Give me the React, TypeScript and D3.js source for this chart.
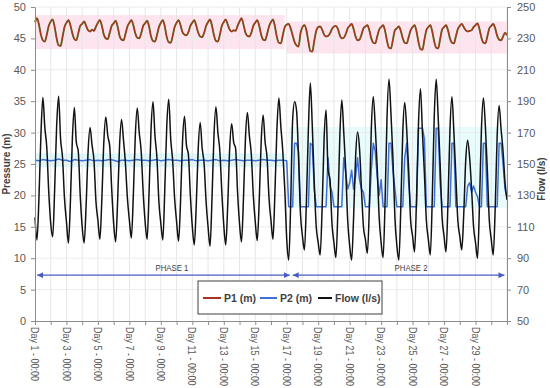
import React, { useEffect, useRef } from 'react';
import * as d3 from 'd3';

// 3-hourly samples (00,03,...,21h) from Day 1 - 00:00
// flow in l/s
const flowPhase1 = [
    116, 101.6, 128, 168, 192.4, 173.2, 160.4, 132,
    112, 103.6, 134, 174, 193.2, 166, 154, 128,
    113.2, 99.6, 126, 166, 186, 164, 158, 130,
    110, 99.6, 124, 158, 173.2, 162, 152, 126,
    114, 102, 128, 164, 180, 168, 161.2, 134,
    112, 100.4, 126, 162, 178.4, 165.2, 150, 128,
    114, 102.8, 130, 168, 185.6, 170, 158, 132,
    113.2, 102, 132, 172, 189.6, 168, 154, 126,
    112, 101.6, 134, 174, 191.2, 166, 152, 128,
    113.2, 100.8, 126, 164, 180.4, 162, 156, 130,
    110, 98.4, 124, 160, 176.4, 160, 150, 126,
    110, 97.6, 128, 168, 186.4, 170, 158, 132,
    110.8, 98.4, 124, 160, 175.6, 164, 160, 132,
    112, 100.4, 128, 166, 182.8, 168, 156, 130,
    113.2, 101.2, 126, 164, 181.2, 164, 154, 128,
    114, 102, 132, 172, 192, 174, 158, 134,
];
// Day 17 - 00:00 to Day 31 - 00:00
const flowPhase2 = [
    102, 88.8, 124, 178, 189.6, 184, 154, 118,
    104, 95.2, 126, 172, 201.6, 174, 138, 110,
    100, 92, 122, 166, 184.4, 146, 140, 112,
    100, 90.4, 120, 168, 190.8, 170, 146, 114,
    98, 88.8, 116, 154, 170.4, 160, 134, 110,
    102, 93.2, 122, 172, 192.8, 174, 148, 116,
    100, 90.4, 126, 180, 204, 182, 154, 116,
    98, 88.8, 122, 170, 189.2, 172, 146, 114,
    104, 94, 128, 176, 198, 170, 144, 114,
    102, 92, 128, 180, 204, 180, 150, 116,
    104, 94, 126, 172, 192.8, 170, 142, 114,
    104, 95.2, 118, 152, 165.2, 154, 134, 110,
    100, 90, 124, 172, 192, 174, 146, 114,
    102, 92, 122, 168, 187.2, 172, 158, 138,
    127.2,
];

// P1 in m, same 3-hourly grid
const p1Phase1 = [
    47.6, 48.2, 47.2, 45.6, 44.7, 44.5, 45.6, 47.0,
    47.7, 48.0, 46.8, 45.0, 43.9, 43.8, 45.2, 46.8,
    47.5, 47.9, 47.1, 45.8, 44.9, 44.7, 45.8, 47.0,
    47.3, 47.7, 47.0, 46.3, 46.1, 46.4, 46.2, 46.9,
    47.5, 47.9, 47.0, 45.6, 45.0, 44.9, 45.9, 47.0,
    47.4, 47.8, 46.9, 45.4, 44.8, 44.7, 45.7, 46.9,
    47.5, 47.9, 47.1, 45.8, 45.1, 45.0, 45.8, 47.0,
    47.4, 47.8, 46.9, 45.3, 44.6, 44.5, 45.5, 46.8,
    47.5, 47.9, 46.9, 45.2, 44.4, 44.3, 45.4, 46.8,
    47.5, 47.9, 47.1, 46.0, 45.6, 45.5, 46.0, 47.0,
    47.5, 47.9, 47.0, 45.9, 45.3, 45.2, 45.9, 47.0,
    47.6, 48.0, 47.0, 45.5, 44.6, 44.5, 45.6, 47.0,
    47.6, 48.0, 47.2, 46.4, 46.1, 46.3, 46.2, 47.0,
    47.7, 48.2, 47.2, 45.9, 45.4, 45.3, 45.9, 47.0,
    47.5, 47.9, 47.0, 45.6, 44.8, 44.7, 45.7, 46.9,
    47.6, 48.0, 46.9, 45.2, 44.3, 44.2, 45.5, 46.8,
];
const p1Phase2 = [
    47.2, 47.3, 46.6, 45.5, 44.4, 43.9, 43.7, 45.8,
    46.8, 47.1, 46.3, 44.5, 43.0, 42.9, 44.6, 46.2,
    46.8, 46.9, 46.4, 45.6, 45.3, 45.4, 45.8, 46.5,
    46.9, 47.0, 46.5, 45.5, 45.0, 45.1, 45.7, 46.6,
    47.0, 47.3, 46.5, 45.3, 44.7, 44.8, 45.6, 46.6,
    46.9, 47.1, 46.3, 45.0, 44.3, 44.2, 45.3, 46.4,
    46.8, 47.1, 46.2, 44.6, 43.5, 43.4, 44.8, 46.3,
    46.6, 46.9, 46.2, 45.0, 44.3, 44.2, 45.2, 46.3,
    46.8, 47.1, 46.1, 44.4, 43.3, 43.2, 44.8, 46.3,
    46.8, 47.1, 46.1, 44.5, 43.5, 43.4, 44.9, 46.4,
    46.8, 47.1, 46.3, 45.0, 44.3, 44.2, 45.3, 46.5,
    47.0, 47.3, 46.8, 46.3, 46.1, 46.2, 46.3, 46.8,
    47.1, 47.4, 46.5, 45.1, 44.3, 44.2, 45.3, 46.6,
    47.0, 47.3, 46.6, 45.4, 44.8, 44.7, 45.3, 45.9,
    45.5,
];

// P2 in m: 6-hourly, Day 1 - 00:00 to Day 17 - 00:00
const p2Phase1 = [
    25.6, 25.5, 25.7, 25.6, 25.5, 25.6, 25.8, 25.6,
    25.6, 25.4, 25.7, 25.6, 25.5, 25.6, 25.7, 25.5,
    25.6, 25.5, 25.6, 25.7, 25.6, 25.4, 25.6, 25.6,
    25.5, 25.6, 25.7, 25.6, 25.6, 25.5, 25.6, 25.7,
    25.5, 25.6, 25.7, 25.6, 25.6, 25.5, 25.6, 25.6,
    25.7, 25.5, 25.6, 25.6, 25.5, 25.6, 25.7, 25.5,
    25.6, 25.5, 25.6, 25.7, 25.6, 25.5, 25.6, 25.6,
    25.5, 25.6, 25.7, 25.6, 25.6, 25.5, 25.6, 25.6,
    25.5,
];
// P2 in m: 3-hourly, Day 17 - 03:00 to Day 31 - 00:00
const p2Phase2 = [
    18.2, 18.2, 18.2, 28.3, 28.3, 27.0, 18.2, 18.2,
    18.2, 18.2, 18.2, 28.3, 28.0, 21.0, 18.2, 18.2,
    18.2, 18.2, 18.2, 18.2, 26.0, 21.5, 20.5, 18.2,
    18.2, 18.2, 18.2, 18.2, 26.0, 23.5, 21.0, 22.0,
    24.0, 21.0, 23.0, 26.0, 22.5, 21.0, 20.5, 18.2,
    18.2, 18.2, 24.0, 28.3, 27.0, 23.0, 20.0, 22.5,
    18.2, 18.2, 18.2, 28.3, 28.3, 24.0, 21.0, 18.2,
    18.2, 18.2, 18.2, 26.0, 28.3, 22.0, 18.2, 18.2,
    18.2, 18.2, 30.7, 30.7, 30.7, 29.0, 18.2, 18.2,
    18.2, 18.2, 18.2, 30.7, 30.7, 22.0, 18.2, 18.2,
    18.2, 18.2, 18.2, 28.3, 28.3, 18.2, 18.2, 18.2,
    18.2, 18.2, 18.2, 21.5, 22.0, 20.5, 21.5, 20.5,
    19.8, 18.2, 18.2, 28.3, 28.3, 18.2, 18.2, 18.2,
    18.2, 18.2, 18.2, 28.3, 28.3, 25.0, 21.0, 19.7,
];

const xTickLabels = [
    'Day 1 - 00:00', 'Day 3 - 00:00', 'Day 5 - 00:00', 'Day 7 - 00:00', 'Day 9 - 00:00',
    'Day 11 - 00:00', 'Day 13 - 00:00', 'Day 15 - 00:00', 'Day 17 - 00:00', 'Day 19 - 00:00',
    'Day 21 - 00:00', 'Day 23 - 00:00', 'Day 25 - 00:00', 'Day 27 - 00:00', 'Day 29 - 00:00',
];
const pressureTicks = [0, 5, 10, 15, 20, 25, 30, 35, 40, 45, 50];
const flowTicks = [50, 70, 90, 110, 130, 150, 170, 190, 210, 230, 250];

const phaseNames = ['PHASE 1', 'PHASE 2'];
const phaseFrom = [0.13, 16.38];
const phaseTo = [16.19, 29.84];
const phaseLabelDay = [8.7, 23.9];

const legendNames = ['P1 (m)', 'P2 (m)', 'Flow (l/s)'];

const FONT = "'Liberation Sans', Arial, sans-serif";

export default function App() {
    const svgRef = useRef<SVGSVGElement>(null);

    useEffect(() => {
        const svg = d3.select(svgRef.current);
        svg.selectAll('*').remove();

        const width = 550;
        const height = 388;
        const margin = { top: 7, right: 43, bottom: 67, left: 35 };
        const w = width - margin.left - margin.right;
        const h = height - margin.top - margin.bottom;

        const colP1 = '#ad321f';
        const colP1under = '#5d7c2c';
        const colP2 = '#3f6fd8';
        const colFlow = '#111111';
        const textCol = '#595959';

        const toPoints = (values: number[], start: number, stepDays: number) =>
            values.map((v, i) => ({ day: start + i * stepDays, v }));

        const flow = toPoints([...flowPhase1, ...flowPhase2], 0, 1 / 8);
        const p1a = toPoints(p1Phase1, 0, 1 / 8);
        const p1b = toPoints(p1Phase2, 16, 1 / 8);
        const p1 = [...p1a, ...p1b];
        const p2a = toPoints(p2Phase1, 0, 1 / 4);
        const p2b = toPoints(p2Phase2, 16 + 1 / 8, 1 / 8);
        const p2 = [...p2a, ...p2b];

        const x = d3.scaleLinear().domain([0, 30]).range([0, w]);
        const yL = d3.scaleLinear().domain([0, 50]).range([h, 0]);
        const yR = d3.scaleLinear().domain([50, 250]).range([h, 0]);

        const chart = svg.append('g')
            .attr('transform', `translate(${margin.left},${margin.top})`);

        // soft highlight bands behind the pressure series
        const band = (pts: { day: number; v: number }[], pad: number, fill: string) => {
            const [lo, hi] = d3.extent(pts, (d) => d.v) as [number, number];
            const [d0, d1] = d3.extent(pts, (d) => d.day) as [number, number];
            chart.append('rect')
                .attr('x', x(d0)).attr('width', x(d1) - x(d0))
                .attr('y', yL(hi + pad)).attr('height', yL(lo - pad) - yL(hi + pad))
                .attr('fill', fill);
        };
        band(p1a, 0.5, '#fde4ee');
        band(p1b, 0.3, '#fde4ee');
        band(p2a, 0.9, '#dcf8fb');
        band(p2b, 0.2, '#e8fbfd');

        // grid
        chart.append('g')
            .selectAll('line')
            .data(d3.range(1, 31))
            .join('line')
            .attr('x1', (d) => x(d)).attr('x2', (d) => x(d))
            .attr('y1', 0).attr('y2', h)
            .attr('stroke', '#e6e6e6').attr('stroke-width', 1);
        chart.append('g')
            .selectAll('line')
            .data(pressureTicks.slice(1))
            .join('line')
            .attr('x1', 0).attr('x2', w)
            .attr('y1', (d) => yL(d)).attr('y2', (d) => yL(d))
            .attr('stroke', '#ececec').attr('stroke-width', 1);

        // series
        const lineStep = d3.line<{ day: number; v: number }>()
            .x((d) => x(d.day)).y((d) => yL(d.v));
        const lineL = d3.line<{ day: number; v: number }>()
            .x((d) => x(d.day)).y((d) => yL(d.v))
            .curve(d3.curveMonotoneX);
        const lineR = d3.line<{ day: number; v: number }>()
            .x((d) => x(d.day)).y((d) => yR(d.v))
            .curve(d3.curveMonotoneX);

        chart.append('path').datum(p2).attr('d', lineStep)
            .attr('fill', 'none').attr('stroke', colP2).attr('stroke-width', 1.5)
            .attr('stroke-linejoin', 'round');
        chart.append('path').datum(p1).attr('d', lineL)
            .attr('fill', 'none').attr('stroke', colP1under).attr('stroke-width', 1.9)
            .attr('stroke-linejoin', 'round');
        chart.append('path').datum(p1).attr('d', lineL)
            .attr('fill', 'none').attr('stroke', colP1).attr('stroke-width', 1.2)
            .attr('stroke-linejoin', 'round');
        chart.append('path').datum(flow).attr('d', lineR)
            .attr('fill', 'none').attr('stroke', colFlow).attr('stroke-width', 1.5)
            .attr('stroke-linejoin', 'round');

        // axes
        const styleAxis = (g: any) => {
            g.select('.domain').attr('stroke', '#8c8c8c');
            g.selectAll('.tick line').attr('stroke', '#8c8c8c');
            g.selectAll('.tick text')
                .attr('fill', textCol)
                .style('font-family', FONT)
                .style('font-size', '11px');
        };

        chart.append('g')
            .call(d3.axisLeft(yL).tickValues(pressureTicks).tickSize(4).tickSizeOuter(0).tickPadding(5))
            .call(styleAxis);
        chart.append('g')
            .attr('transform', `translate(${w},0)`)
            .call(d3.axisRight(yR).tickValues(flowTicks).tickSize(4).tickSizeOuter(0).tickPadding(6))
            .call(styleAxis);
        chart.append('g')
            .attr('transform', `translate(0,${h})`)
            .call(d3.axisBottom(x).tickValues(d3.range(0, 31)).tickSize(4).tickSizeOuter(0).tickFormat(() => ''))
            .call(styleAxis);

        // rotated day labels, horizontally condensed like the original narrow face
        chart.append('g')
            .selectAll('text')
            .data(xTickLabels)
            .join('text')
            .attr('transform', (_, i) => `translate(${x(i * 2)},${h + 6}) rotate(90) scale(0.82,1)`)
            .attr('dy', '0.35em')
            .attr('text-anchor', 'start')
            .attr('fill', textCol)
            .style('font-family', FONT)
            .style('font-size', '11px')
            .text((d) => d);

        // axis titles
        svg.append('text')
            .attr('transform', `translate(10,${margin.top + h / 2}) rotate(-90)`)
            .attr('text-anchor', 'middle')
            .attr('fill', '#404040')
            .style('font-family', FONT)
            .style('font-size', '10px')
            .style('font-weight', 'bold')
            .text('Pressure (m)');
        svg.append('text')
            .attr('transform', `translate(545,${margin.top + h / 2 + 15}) rotate(-90)`)
            .attr('text-anchor', 'middle')
            .attr('fill', '#404040')
            .style('font-family', FONT)
            .style('font-size', '10px')
            .style('font-weight', 'bold')
            .text('Flow (l/s)');

        // phase arrows
        const arrowCol = '#4a5cc4';
        svg.append('defs').append('marker')
            .attr('id', 'ph-arrow')
            .attr('viewBox', '0 0 10 10')
            .attr('refX', 10).attr('refY', 5)
            .attr('markerUnits', 'userSpaceOnUse')
            .attr('markerWidth', 6).attr('markerHeight', 6)
            .attr('orient', 'auto-start-reverse')
            .append('path').attr('d', 'M0,0L10,5L0,10z').attr('fill', arrowCol);

        const arrowY = yL(7.3);
        phaseNames.forEach((name, i) => {
            chart.append('line')
                .attr('x1', x(phaseFrom[i])).attr('x2', x(phaseTo[i]))
                .attr('y1', arrowY).attr('y2', arrowY)
                .attr('stroke', arrowCol).attr('stroke-width', 1.3)
                .attr('marker-start', 'url(#ph-arrow)')
                .attr('marker-end', 'url(#ph-arrow)');
            chart.append('text')
                .attr('transform', `translate(${x(phaseLabelDay[i])},${arrowY - 4}) scale(0.82,1)`)
                .attr('text-anchor', 'middle')
                .attr('fill', '#404040')
                .style('font-family', FONT)
                .style('font-size', '9.5px')
                .text(name);
        });

        // legend
        const legend = svg.append('g').attr('transform', 'translate(198,281)');
        legend.append('rect')
            .attr('width', 184).attr('height', 33)
            .attr('fill', '#ffffff').attr('stroke', '#404040').attr('stroke-width', 1);
        const legendColors = [colP1, colP2, colFlow];
        const swatchX = [5, 62, 120];
        const swatchW = [18, 17, 14];
        legendNames.forEach((name, i) => {
            legend.append('line')
                .attr('x1', swatchX[i]).attr('x2', swatchX[i] + swatchW[i])
                .attr('y1', 17).attr('y2', 17)
                .attr('stroke', legendColors[i]).attr('stroke-width', 2);
            legend.append('text')
                .attr('x', swatchX[i] + swatchW[i] + 3)
                .attr('y', 17)
                .attr('dy', '0.35em')
                .attr('fill', '#404040')
                .style('font-family', FONT)
                .style('font-size', '10.5px')
                .style('font-weight', 'bold')
                .text(name);
        });
    }, []);

    return (
        <svg
            ref={svgRef}
            width={550}
            height={388}
            style={{ position: 'absolute', left: 0, top: 0, background: '#ffffff' }}
        />
    );
}
